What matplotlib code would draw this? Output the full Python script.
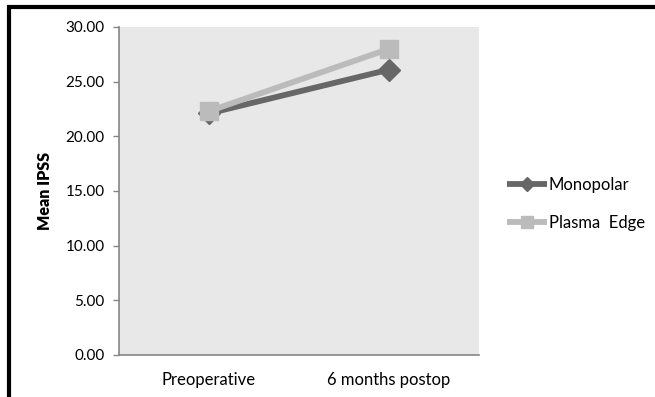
import matplotlib
matplotlib.use("Agg")
import matplotlib.pyplot as plt
from matplotlib.lines import Line2D

categories = ["Preoperative", "6 months postop"]
monopolar = [22.1, 26.1]
plasma_edge = [22.3, 28.0]
series_names = ["Monopolar", "Plasma  Edge"]
yticks = [0, 5, 10, 15, 20, 25, 30]

plt.rcParams['font.family'] = ['Lato', 'DejaVu Sans']

W, H = 655, 397
fig = plt.figure(figsize=(W/100, H/100), dpi=100)
fig.patch.set_facecolor('white')
ax = fig.add_axes([119/W, 1-355/H, 360/W, 328/H])
ax.set_facecolor('#E8E8E8')

x = list(range(len(categories)))
ax.plot(x, monopolar, color='#676767', lw=4.2, marker='D', markersize=11,
        label=series_names[0], solid_capstyle='butt', zorder=3)
ax.plot(x, plasma_edge, color='#BBBBBB', lw=4.2, marker='s', markersize=13,
        label=series_names[1], solid_capstyle='butt', zorder=4)

ax.set_xlim(-0.5, 1.5)
ax.set_ylim(0, 30)
ax.set_yticks(yticks)
ax.set_yticklabels([f"{v:.2f}" for v in yticks], fontsize=11)
ax.set_xticks(x)
ax.set_xticklabels(categories, fontsize=12)
ax.tick_params(axis='x', length=0, pad=12)
ax.tick_params(axis='y', length=4.5, width=1, color='#868686', pad=6)
for s in ['top', 'right']:
    ax.spines[s].set_visible(False)
for s in ['left', 'bottom']:
    ax.spines[s].set_color('#868686')
    ax.spines[s].set_linewidth(1.2)
ax.set_ylabel("Mean IPSS", fontsize=11.5, fontweight='heavy', labelpad=9)

leg = fig.legend(loc='center left', bbox_to_anchor=(492/W, 1-204/H), frameon=False,
                 fontsize=12, handlelength=2.4, handletextpad=0.1, labelspacing=1.35)
for h, ms in zip(leg.legend_handles, [7, 9]):
    h.set_markersize(ms)

# border lines (left and top)
fig.add_artist(Line2D([8.5/W, 8.5/W], [0, 1-5/H], transform=fig.transFigure,
                      color='black', lw=3, solid_capstyle='butt'))
fig.add_artist(Line2D([6.5/W, 1], [1-7/H, 1-7/H], transform=fig.transFigure,
                      color='black', lw=3, solid_capstyle='butt'))

fig.savefig("out.png", dpi=100)
